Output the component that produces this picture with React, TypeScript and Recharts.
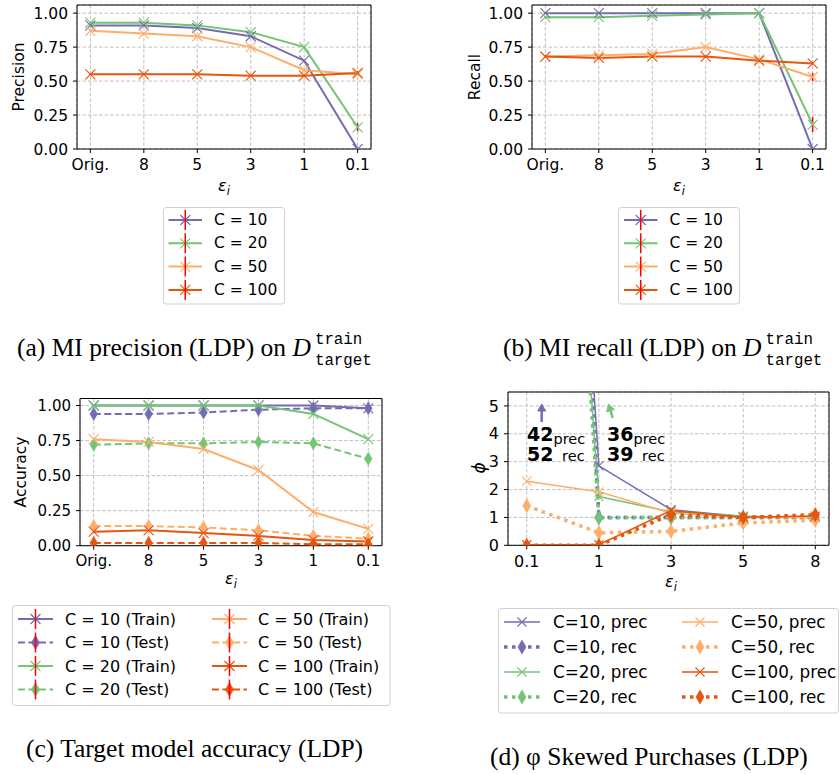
import React from "react";
import { LineChart, Line, XAxis, YAxis, CartesianGrid, ErrorBar, ReferenceArea } from "recharts";

const PURPLE = "#756bb1";
const GREEN = "#74c476";
const LIGHT_ORANGE = "#fdae6b";
const DARK_ORANGE = "#e6550d";
const ERR_RED = "#ff0000";
const FONT = "DejaVu Sans";
const SERIF = "Liberation Serif";

// privacy budgets on the x axis
const epsLabels = ["Orig.", "8", "5", "3", "1", "0.1"];
const phiEpsLabels = ["0.1", "1", "3", "5", "8"];

// (a) membership inference precision
const precC10 = [0.91, 0.91, 0.89, 0.83, 0.65, 0.0];
const precC20 = [0.93, 0.93, 0.91, 0.86, 0.75, 0.16];
const precC50 = [0.87, 0.85, 0.83, 0.75, 0.58, 0.55];
const precC100 = [0.55, 0.55, 0.55, 0.54, 0.54, 0.56];
const precErrC10 = [0.004, 0.004, 0.004, 0.005, 0.008, 0.0];
const precErrC20 = [0.004, 0.004, 0.004, 0.004, 0.005, 0.03];
const precErrC50 = [0.004, 0.004, 0.004, 0.004, 0.006, 0.008];
const precErrC100 = [0.004, 0.004, 0.004, 0.004, 0.006, 0.012];

// (b) membership inference recall
const recC10 = [1.0, 1.0, 1.0, 1.0, 1.0, 0.0];
const recC20 = [0.97, 0.97, 0.98, 0.99, 1.0, 0.18];
const recC50 = [0.68, 0.69, 0.7, 0.75, 0.66, 0.53];
const recC100 = [0.68, 0.67, 0.68, 0.68, 0.65, 0.63];
const recErrC10 = [0.004, 0.004, 0.004, 0.004, 0.004, 0.0];
const recErrC20 = [0.004, 0.004, 0.004, 0.004, 0.004, 0.055];
const recErrC50 = [0.004, 0.004, 0.004, 0.004, 0.006, 0.03];
const recErrC100 = [0.01, 0.01, 0.01, 0.006, 0.01, 0.008];

// (c) target model accuracy
const accC10Train = [1.0, 1.0, 1.0, 1.0, 1.0, 0.98];
const accC10Test = [0.94, 0.94, 0.95, 0.97, 0.98, 0.98];
const accC20Train = [1.0, 1.0, 1.0, 1.0, 0.94, 0.76];
const accC20Test = [0.72, 0.73, 0.73, 0.74, 0.73, 0.62];
const accC50Train = [0.76, 0.74, 0.69, 0.54, 0.24, 0.12];
const accC50Test = [0.14, 0.14, 0.13, 0.11, 0.07, 0.05];
const accC100Train = [0.1, 0.11, 0.09, 0.07, 0.04, 0.03];
const accC100Test = [0.02, 0.02, 0.02, 0.02, 0.01, 0.01];
const accErr = [0.004, 0.004, 0.004, 0.004, 0.004, 0.004];

// (d) phi for skewed purchases
const phiC10Prec = [42, 2.85, 1.28, 1.03, 1.0];
const phiC10Rec = [52, 1.0, 1.0, 1.0, 1.0];
const phiC20Prec = [36, 1.75, 1.2, 1.05, 1.0];
const phiC20Rec = [39, 0.99, 1.0, 1.0, 1.0];
const phiC50Prec = [2.3, 1.92, 1.15, 1.0, 1.0];
const phiC50Rec = [1.42, 0.45, 0.5, 0.8, 0.9];
const phiC100Prec = [0.02, 0.02, 1.25, 1.0, 1.05];
const phiC100Rec = [0.0, 0.0, 1.1, 1.0, 1.1];

type Marker = "x" | "d";
interface SeriesSpec {
  key: string;
  name: string;
  color: string;
  values: number[];
  err?: number[];
  marker: Marker;
  dash?: string;
  width: number;
}

function buildRows(labels: string[], series: SeriesSpec[]) {
  return labels.map((label, i) => {
    const row: Record<string, number | string> = { i, label };
    for (const s of series) {
      row[s.key] = s.values[i];
      if (s.err) row[s.key + "_err"] = s.err[i];
    }
    return row;
  });
}

function markerPath(kind: Marker, cx: number, cy: number, r: number) {
  if (kind === "x") {
    return `M${cx - r} ${cy - r}L${cx + r} ${cy + r}M${cx - r} ${cy + r}L${cx + r} ${cy - r}`;
  }
  const w = r * 0.58;
  return `M${cx} ${cy - r}L${cx + w} ${cy}L${cx} ${cy + r}L${cx - w} ${cy}Z`;
}

function makeDot(kind: Marker, color: string, r: number) {
  return (p: any) => {
    const { cx, cy, index } = p;
    if (cx == null || cy == null || Number.isNaN(cy)) return <g key={`m${index}`} />;
    return (
      <path
        key={`m${index}`}
        d={markerPath(kind, cx, cy, r)}
        stroke={color}
        strokeWidth={kind === "x" ? 1.1 : 0.6}
        fill={kind === "x" ? "none" : color}
      />
    );
  };
}

interface PanelProps {
  left: number;
  top: number;
  width: number;
  height: number;
  margin: { top: number; right: number; bottom: number; left: number };
  yWidth: number;
  labels: string[];
  series: SeriesSpec[];
  xDomain: [number, number];
  yDomain: [number, number];
  yTicks: number[];
  yDigits: number;
  fontSize: number;
  markerR: number;
  diamondR: number;
}

function Panel(p: PanelProps) {
  const data = buildRows(p.labels, p.series);
  const xTicks = p.labels.map((_, i) => i);
  const tickStyle = { fill: "#000", fontSize: p.fontSize, fontFamily: FONT };
  return (
    <div style={{ position: "absolute", left: p.left, top: p.top }}>
      <LineChart width={p.width} height={p.height} data={data} margin={p.margin}>
        <CartesianGrid stroke="#b0b0b0" strokeDasharray="3.5 2" strokeWidth={0.8} />
        <XAxis
          type="number"
          dataKey="i"
          domain={p.xDomain}
          ticks={xTicks}
          tickFormatter={(v: number) => p.labels[v] ?? ""}
          allowDataOverflow
          axisLine={false}
          tickLine={{ stroke: "#000" }}
          tickSize={4}
          tickMargin={6}
          height={30}
          tick={tickStyle}
          interval={0}
        />
        <YAxis
          type="number"
          domain={p.yDomain}
          ticks={p.yTicks}
          tickFormatter={(v: number) => v.toFixed(p.yDigits)}
          allowDataOverflow
          axisLine={false}
          tickLine={{ stroke: "#000" }}
          tickSize={4}
          tickMargin={5}
          width={p.yWidth}
          tick={tickStyle}
          interval={0}
        />
        {p.series.map((s) => (
          <Line
            key={s.key}
            dataKey={s.key}
            stroke={s.color}
            strokeWidth={s.width}
            strokeDasharray={s.dash}
            isAnimationActive={false}
            dot={makeDot(s.marker, s.color, s.marker === "x" ? p.markerR : p.diamondR)}
            activeDot={false}
            type="linear"
          >
            {s.err ? (
              <ErrorBar dataKey={s.key + "_err"} stroke={ERR_RED} strokeWidth={1.5} width={0} direction="y" isAnimationActive={false} />
            ) : null}
          </Line>
        ))}
        <ReferenceArea
          x1={p.xDomain[0]}
          x2={p.xDomain[1]}
          y1={p.yDomain[0]}
          y2={p.yDomain[1]}
          fill="none"
          stroke="#000"
          strokeWidth={1}
          ifOverflow="visible"
        />
      </LineChart>
    </div>
  );
}

const precSeries: SeriesSpec[] = [
  { key: "c10", name: "C = 10", color: PURPLE, values: precC10, err: precErrC10, marker: "x", width: 2 },
  { key: "c20", name: "C = 20", color: GREEN, values: precC20, err: precErrC20, marker: "x", width: 2 },
  { key: "c50", name: "C = 50", color: LIGHT_ORANGE, values: precC50, err: precErrC50, marker: "x", width: 2 },
  { key: "c100", name: "C = 100", color: DARK_ORANGE, values: precC100, err: precErrC100, marker: "x", width: 2 },
];

const recSeries: SeriesSpec[] = [
  { key: "c10", name: "C = 10", color: PURPLE, values: recC10, err: recErrC10, marker: "x", width: 2 },
  { key: "c20", name: "C = 20", color: GREEN, values: recC20, err: recErrC20, marker: "x", width: 2 },
  { key: "c50", name: "C = 50", color: LIGHT_ORANGE, values: recC50, err: recErrC50, marker: "x", width: 2 },
  { key: "c100", name: "C = 100", color: DARK_ORANGE, values: recC100, err: recErrC100, marker: "x", width: 2 },
];

const DASHED = "7 3.5";
const accSeries: SeriesSpec[] = [
  { key: "c10tr", name: "C = 10 (Train)", color: PURPLE, values: accC10Train, err: accErr, marker: "x", width: 2 },
  { key: "c10te", name: "C = 10 (Test)", color: PURPLE, values: accC10Test, err: accErr, marker: "d", dash: DASHED, width: 2 },
  { key: "c20tr", name: "C = 20 (Train)", color: GREEN, values: accC20Train, err: accErr, marker: "x", width: 2 },
  { key: "c20te", name: "C = 20 (Test)", color: GREEN, values: accC20Test, err: accErr, marker: "d", dash: DASHED, width: 2 },
  { key: "c50tr", name: "C = 50 (Train)", color: LIGHT_ORANGE, values: accC50Train, err: accErr, marker: "x", width: 2 },
  { key: "c50te", name: "C = 50 (Test)", color: LIGHT_ORANGE, values: accC50Test, err: accErr, marker: "d", dash: DASHED, width: 2 },
  { key: "c100tr", name: "C = 100 (Train)", color: DARK_ORANGE, values: accC100Train, err: accErr, marker: "x", width: 2 },
  { key: "c100te", name: "C = 100 (Test)", color: DARK_ORANGE, values: accC100Test, err: accErr, marker: "d", dash: DASHED, width: 2 },
];

const DOTTED = "3.5 4.5";
const phiSeries: SeriesSpec[] = [
  { key: "c10p", name: "C=10, prec", color: PURPLE, values: phiC10Prec, marker: "x", width: 1.5 },
  { key: "c10r", name: "C=10, rec", color: PURPLE, values: phiC10Rec, marker: "d", dash: DOTTED, width: 3.5 },
  { key: "c20p", name: "C=20, prec", color: GREEN, values: phiC20Prec, marker: "x", width: 1.5 },
  { key: "c20r", name: "C=20, rec", color: GREEN, values: phiC20Rec, marker: "d", dash: DOTTED, width: 3.5 },
  { key: "c50p", name: "C=50, prec", color: LIGHT_ORANGE, values: phiC50Prec, marker: "x", width: 1.5 },
  { key: "c50r", name: "C=50, rec", color: LIGHT_ORANGE, values: phiC50Rec, marker: "d", dash: DOTTED, width: 3.5 },
  { key: "c100p", name: "C=100, prec", color: DARK_ORANGE, values: phiC100Prec, marker: "x", width: 1.5 },
  { key: "c100r", name: "C=100, rec", color: DARK_ORANGE, values: phiC100Rec, marker: "d", dash: DOTTED, width: 3.5 },
];

// one legend row: short line sample with its marker, then the label
function LegendRow(props: {
  s: SeriesSpec;
  x: number;
  y: number;
  len: number;
  textX: number;
  fontSize: number;
  r: number;
  errBar: boolean;
}) {
  const { s, x, y, len, textX, fontSize, r, errBar } = props;
  const cx = x + len / 2;
  return (
    <g>
      <line x1={x} y1={y} x2={x + len} y2={y} stroke={s.color} strokeWidth={s.width} strokeDasharray={s.dash} />
      <path d={markerPath(s.marker, cx, y, r)} stroke={s.color} strokeWidth={s.marker === "x" ? 1.1 : 0.6} fill={s.marker === "x" ? "none" : s.color} />
      {errBar ? <line x1={cx} y1={y - 10} x2={cx} y2={y + 10} stroke={ERR_RED} strokeWidth={1.5} /> : null}
      <text x={textX} y={y} dominantBaseline="central" fontFamily={FONT} fontSize={fontSize} fill="#000">
        {s.name}
      </text>
    </g>
  );
}

function LegendBox({ x, y, w, h }: { x: number; y: number; w: number; h: number }) {
  return <rect x={x} y={y} width={w} height={h} rx={3} fill="#fff" fillOpacity={0.9} stroke="#d0d0d0" strokeWidth={1} />;
}

function EpsLabel({ x, y }: { x: number; y: number }) {
  return (
    <text x={x} y={y} textAnchor="middle" fontFamily={FONT} fontSize={16} fontStyle="italic" fill="#000">
      ε<tspan fontSize={11.5} dy={4}>i</tspan>
    </text>
  );
}

function YTitle({ x, y, text, italic }: { x: number; y: number; text: string; italic?: boolean }) {
  return (
    <text
      transform={`translate(${x},${y}) rotate(-90)`}
      textAnchor="middle"
      dominantBaseline="central"
      fontFamily={FONT}
      fontSize={italic ? 17 : 15.5}
      fontStyle={italic ? "italic" : undefined}
      fill="#000"
    >
      {text}
    </text>
  );
}

function Caption({ x, y, main, dTarget }: { x: number; y: number; main: string; dTarget?: boolean }) {
  return (
    <text x={x} y={y} fontFamily={SERIF} fontSize={25.5} fill="#000">
      {main}
      {dTarget ? (
        <>
          <tspan fontStyle="italic">D</tspan>
          <tspan fontFamily="Liberation Mono" fontSize={15.8} dx={4} dy={-12}>train</tspan>
          <tspan fontFamily="Liberation Mono" fontSize={15.8} dx={-47.4} dy={21}>target</tspan>
        </>
      ) : null}
    </text>
  );
}

function Arrow({ x1, y1, x2, y2, color }: { x1: number; y1: number; x2: number; y2: number; color: string }) {
  const a = Math.atan2(y2 - y1, x2 - x1);
  const hl = 7;
  const hw = 4;
  const bx = x2 - hl * Math.cos(a);
  const by = y2 - hl * Math.sin(a);
  const px = -Math.sin(a) * hw;
  const py = Math.cos(a) * hw;
  return (
    <g>
      <line x1={x1} y1={y1} x2={bx} y2={by} stroke={color} strokeWidth={2.5} />
      <path d={`M${x2} ${y2}L${bx + px} ${by + py}L${bx - px} ${by - py}Z`} fill={color} stroke={color} strokeWidth={1} />
    </g>
  );
}

export default function App() {
  return (
    <div style={{ position: "absolute", left: 0, top: 0, width: 840, height: 774, background: "#fff", overflow: "hidden" }}>
      <Panel
        left={0}
        top={0}
        width={420}
        height={200}
        margin={{ top: 5, right: 49, bottom: 21, left: 0 }}
        yWidth={77}
        labels={epsLabels}
        series={precSeries}
        xDomain={[-0.25, 5.25]}
        yDomain={[0, 1.06]}
        yTicks={[0, 0.25, 0.5, 0.75, 1]}
        yDigits={2}
        fontSize={15.5}
        markerR={5}
        diamondR={6}
      />
      <Panel
        left={420}
        top={0}
        width={420}
        height={200}
        margin={{ top: 5, right: 14, bottom: 21, left: 35 }}
        yWidth={77}
        labels={epsLabels}
        series={recSeries}
        xDomain={[-0.25, 5.25]}
        yDomain={[0, 1.06]}
        yTicks={[0, 0.25, 0.5, 0.75, 1]}
        yDigits={2}
        fontSize={15.5}
        markerR={5}
        diamondR={6}
      />
      <Panel
        left={0}
        top={390}
        width={420}
        height={200}
        margin={{ top: 8.5, right: 38, bottom: 14.3, left: 0 }}
        yWidth={80}
        labels={epsLabels}
        series={accSeries}
        xDomain={[-0.25, 5.25]}
        yDomain={[0, 1.05]}
        yTicks={[0, 0.25, 0.5, 0.75, 1]}
        yDigits={2}
        fontSize={15}
        markerR={5}
        diamondR={6.5}
      />
      <Panel
        left={420}
        top={390}
        width={420}
        height={200}
        margin={{ top: 2, right: 11, bottom: 14.7, left: 11 }}
        yWidth={77}
        labels={phiEpsLabels}
        series={phiSeries}
        xDomain={[-0.26, 4.19]}
        yDomain={[0, 5.5]}
        yTicks={[0, 1, 2, 3, 4, 5]}
        yDigits={0}
        fontSize={16}
        markerR={4.5}
        diamondR={7}
      />

      <svg width={840} height={774} style={{ position: "absolute", left: 0, top: 0, pointerEvents: "none" }}>
        {/* axis titles */}
        <YTitle x={19} y={77} text="Precision" />
        <YTitle x={475} y={77} text="Recall" />
        <YTitle x={21} y={472} text="Accuracy" />
        <YTitle x={479} y={468} text="ϕ" italic />
        <EpsLabel x={224} y={191} />
        <EpsLabel x={679} y={191} />
        <EpsLabel x={231} y={584} />
        <EpsLabel x={671} y={587} />

        {/* (a) legend */}
        <LegendBox x={163.5} y={207.5} w={121} h={96.5} />
        {precSeries.map((s, k) => (
          <LegendRow key={s.key} s={s} x={168.5} y={220 + k * 23.3} len={33.5} textX={214} fontSize={15.5} r={5} errBar />
        ))}

        {/* (b) legend */}
        <LegendBox x={618.5} y={207.5} w={121} h={96.5} />
        {recSeries.map((s, k) => (
          <LegendRow key={s.key} s={s} x={624} y={220 + k * 23.3} len={33.5} textX={669.5} fontSize={15.5} r={5} errBar />
        ))}

        {/* (c) legend, two columns */}
        <LegendBox x={12.5} y={605.5} w={377.5} h={100} />
        {accSeries.map((s, k) => {
          const col = Math.floor(k / 4);
          const row = k % 4;
          return (
            <LegendRow
              key={s.key}
              s={s}
              x={col === 0 ? 18 : 212}
              y={619 + row * 23.5}
              len={35}
              textX={col === 0 ? 65 : 258}
              fontSize={16}
              r={s.marker === "x" ? 5 : 7}
              errBar
            />
          );
        })}

        {/* (d) legend, two columns */}
        <LegendBox x={498.5} y={608.5} w={340} h={104.5} />
        {phiSeries.map((s, k) => {
          const col = Math.floor(k / 4);
          const row = k % 4;
          return (
            <LegendRow
              key={s.key}
              s={s}
              x={col === 0 ? 504 : 682}
              y={622 + row * 25}
              len={36}
              textX={col === 0 ? 553 : 731}
              fontSize={16.8}
              r={s.marker === "x" ? 4.5 : 7}
              errBar={false}
            />
          );
        })}

        {/* (d) off-scale values at epsilon = 0.1 */}
        <Arrow x1={541.7} y1={422} x2={541.7} y2={404} color={PURPLE} />
        <Arrow x1={612.7} y1={418} x2={608.5} y2={404} color={GREEN} />
        <text fontFamily={FONT} fill="#000">
          <tspan x={527} y={441} fontWeight="bold" fontSize={19}>42</tspan>
          <tspan fontSize={14.5} dy={3}>prec</tspan>
        </text>
        <text fontFamily={FONT} fill="#000">
          <tspan x={527} y={461} fontWeight="bold" fontSize={19}>52</tspan>
          <tspan fontSize={14.5} dx={4}> rec</tspan>
        </text>
        <text fontFamily={FONT} fill="#000">
          <tspan x={607} y={441} fontWeight="bold" fontSize={19}>36</tspan>
          <tspan fontSize={14.5} dy={3}>prec</tspan>
        </text>
        <text fontFamily={FONT} fill="#000">
          <tspan x={607} y={461} fontWeight="bold" fontSize={19}>39</tspan>
          <tspan fontSize={14.5} dx={4}> rec</tspan>
        </text>

        {/* sub-figure captions */}
        <Caption x={17} y={356} main="(a) MI precision (LDP) on " dTarget />
        <Caption x={503} y={356} main="(b) MI recall (LDP) on " dTarget />
        <Caption x={26} y={757} main="(c) Target model accuracy (LDP)" />
        <Caption x={490} y={765} main="(d) φ Skewed Purchases (LDP)" />
      </svg>
    </div>
  );
}
